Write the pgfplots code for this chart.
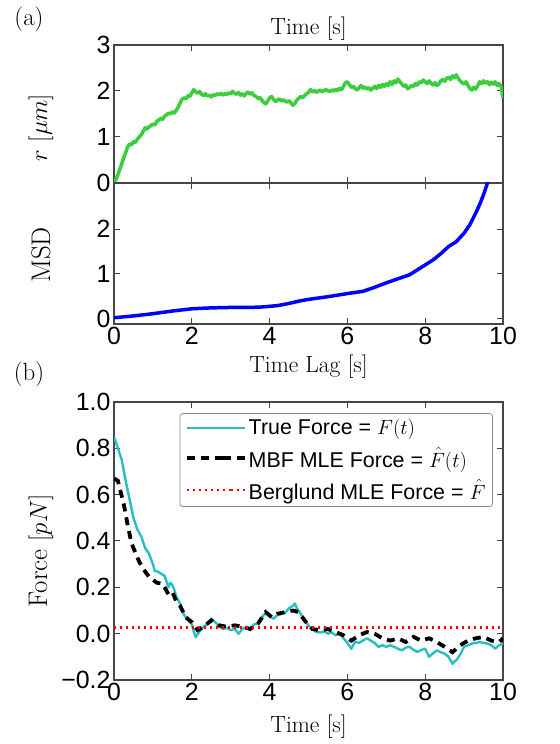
\documentclass[border=0pt]{standalone}
\usepackage{fontspec}
\usepackage{pgfplots}
\pgfplotsset{compat=1.18}
\newfontfamily\helv{Liberation Sans}
\definecolor{rgreen}{RGB}{60,205,60}
\definecolor{cyanc}{RGB}{40,190,195}
\definecolor{axgray}{RGB}{70,70,70}
\pgfplotsset{
  stdleg/.style={legend image code/.code={\draw[##1] (0bp,0bp) -- (44bp,0bp); \path (44bp,0bp) -- (58bp,0bp);}},
  dashleg/.style={legend image code/.code={\draw[##1] (0bp,0bp) -- (36bp,0bp); \path (36bp,0bp) -- (58bp,0bp);}},
}
\begin{document}
\begin{tikzpicture}
\path[use as bounding box] (0bp,0bp) rectangle (560bp,744bp);
\pgfplotsset{
  every axis/.append style={
    scale only axis, width=389bp, xmin=0, xmax=10,
    axis line style={line width=1.2bp, axgray},
    every tick/.style={line width=1bp, axgray},
    major tick length=6bp, tick align=inside,
    xtick={0,2,4,6,8,10},
    ticklabel style={font=\fontsize{25}{25}\selectfont\helv},
    /pgf/number format/assume math mode=true,
    every axis x label/.style={font=\fontsize{23.5}{26}\selectfont, anchor=center},
    every axis y label/.style={font=\fontsize{27}{29}\selectfont, rotate=90, anchor=center},
  },
}
% ---------- (a) top: r(t)
\begin{axis}[at={(114bp,561bp)}, anchor=south west, height=138bp,
  ymin=0, ymax=3, ytick={0,1,2,3},
  xticklabels={},
  xlabel={Time [s]},
  xlabel style={at={(rel axis cs:0.5,1.116)}},
  ylabel={$r\ [\mu m]$},
  ylabel style={at={(rel axis cs:-0.1877,0.40)}}]
\addplot[rgreen, line width=3.5bp, line join=round] coordinates {
(0.00,0.00)(0.05,0.08)(0.10,0.18)(0.15,0.30)(0.20,0.42)(0.25,0.55)(0.30,0.66)(0.35,0.78)(0.40,0.85)(0.45,0.83)
(0.50,0.90)(0.55,0.88)(0.60,0.95)(0.65,1.00)(0.70,1.05)(0.75,1.12)(0.80,1.20)(0.85,1.17)(0.90,1.22)(0.95,1.25)
(1.00,1.28)(1.05,1.26)(1.10,1.34)(1.15,1.37)(1.20,1.40)(1.25,1.38)(1.30,1.45)(1.35,1.48)(1.40,1.52)(1.45,1.50)
(1.50,1.55)(1.55,1.52)(1.60,1.58)(1.65,1.65)(1.70,1.74)(1.75,1.82)(1.80,1.85)(1.85,1.83)(1.90,1.90)(1.95,1.88)
(2.00,1.96)(2.05,2.03)(2.10,1.98)(2.15,1.95)(2.20,1.99)(2.25,1.93)(2.30,1.90)(2.35,1.94)(2.40,1.89)(2.45,1.91)
(2.50,1.87)(2.55,1.92)(2.60,1.90)(2.65,1.94)(2.70,1.92)(2.75,1.95)(2.80,1.91)(2.85,1.94)(2.90,1.93)(2.95,1.96)
(3.00,1.94)(3.05,1.99)(3.10,1.95)(3.15,1.93)(3.20,1.97)(3.25,1.91)(3.30,1.94)(3.35,1.89)(3.40,1.95)(3.45,1.98)
(3.50,1.93)(3.55,1.96)(3.60,1.90)(3.65,1.88)(3.70,1.84)(3.75,1.86)(3.80,1.80)(3.85,1.75)(3.90,1.72)(3.95,1.78)
(4.00,1.85)(4.05,1.88)(4.10,1.82)(4.15,1.77)(4.20,1.80)(4.25,1.83)(4.30,1.78)(4.35,1.81)(4.40,1.78)(4.45,1.76)
(4.50,1.79)(4.55,1.74)(4.60,1.69)(4.65,1.73)(4.70,1.80)(4.75,1.84)(4.80,1.88)(4.85,1.85)(4.90,1.90)(4.95,1.94)
(5.00,1.97)(5.05,2.03)(5.10,1.98)(5.15,2.01)(5.20,1.97)(5.25,2.00)(5.30,2.02)(5.35,1.98)(5.40,2.01)(5.45,2.03)
(5.50,2.00)(5.55,1.99)(5.60,2.02)(5.65,2.00)(5.70,2.04)(5.75,2.01)(5.80,2.06)(5.85,2.03)(5.90,2.10)(5.95,2.18)
(6.00,2.20)(6.05,2.14)(6.10,2.08)(6.15,2.10)(6.20,2.05)(6.25,2.02)(6.30,2.07)(6.35,2.12)(6.40,2.06)(6.45,2.09)
(6.50,2.04)(6.55,2.07)(6.60,2.02)(6.65,2.06)(6.70,2.10)(6.75,2.05)(6.80,2.12)(6.85,2.08)(6.90,2.14)(6.95,2.10)
(7.00,2.16)(7.05,2.12)(7.10,2.20)(7.15,2.14)(7.20,2.22)(7.25,2.18)(7.30,2.26)(7.35,2.20)(7.40,2.15)(7.45,2.10)
(7.50,2.13)(7.55,2.05)(7.60,2.08)(7.65,2.12)(7.70,2.10)(7.75,2.16)(7.80,2.13)(7.85,2.20)(7.90,2.18)(7.95,2.24)
(8.00,2.20)(8.05,2.16)(8.10,2.22)(8.15,2.17)(8.20,2.13)(8.25,2.18)(8.30,2.12)(8.35,2.15)(8.40,2.22)(8.45,2.25)
(8.50,2.21)(8.55,2.27)(8.60,2.30)(8.65,2.25)(8.70,2.33)(8.75,2.29)(8.80,2.35)(8.85,2.27)(8.90,2.22)(8.95,2.18)
(9.00,2.15)(9.05,2.20)(9.10,2.12)(9.15,2.05)(9.20,2.02)(9.25,2.08)(9.30,2.04)(9.35,2.12)(9.40,2.20)(9.45,2.16)
(9.50,2.22)(9.55,2.17)(9.60,2.20)(9.65,2.14)(9.70,2.19)(9.75,2.15)(9.80,2.20)(9.85,2.12)(9.90,2.16)(9.95,2.10)
(10.00,1.85)
};
\end{axis}
% ---------- (a) middle: MSD
\begin{axis}[at={(114bp,420bp)}, anchor=south west, height=141bp,
  ymin=-0.12, ymax=3.03, ytick={0,1,2},
  xlabel={Time Lag [s]},
  xlabel style={at={(rel axis cs:0.5,-0.305)}},
  ylabel={MSD},
  ylabel style={at={(rel axis cs:-0.1877,0.49)}}]
\addplot[blue, line width=3.5bp, line join=round] coordinates {
(0,0.02)(0.5,0.06)(1,0.11)(1.5,0.17)(1.8,0.20)(2,0.22)(2.5,0.24)(3,0.25)(3.5,0.25)(3.8,0.26)
(4.2,0.29)(4.5,0.34)(4.8,0.40)(5,0.43)(5.5,0.49)(6,0.56)(6.4,0.61)(6.7,0.70)(7,0.80)(7.3,0.89)
(7.6,0.98)(7.8,1.09)(8,1.20)(8.2,1.31)(8.4,1.45)(8.6,1.61)(8.8,1.72)(9,1.91)(9.15,2.10)(9.3,2.36)
(9.4,2.55)(9.5,2.77)(9.6,3.03)(9.7,3.3)
};
\end{axis}
% ---------- (b) Force
\begin{axis}[at={(114bp,64bp)}, anchor=south west, height=278bp,
  ymin=-0.2, ymax=1.0, ytick={-0.2,0,0.2,0.4,0.6,0.8,1.0},
  yticklabels={−0.2,0.0,0.2,0.4,0.6,0.8,1.0},
  xlabel={Time [s]},
  xlabel style={at={(rel axis cs:0.5,-0.169)}},
  ylabel={Force $[pN]$},
  ylabel style={at={(rel axis cs:-0.1877,0.464)}},
  legend style={at={(rel axis cs:0.974,0.96)}, anchor=north east,
    font=\fontsize{21.5}{24}\selectfont\helv, draw=black!45, line width=0.8bp,
    rounded corners=3bp, inner xsep=5bp, inner ysep=4bp,
    row sep=7bp},
  legend cell align=left,
  stdleg,
  ]
\addplot[cyanc, line width=2.4bp, line join=round] coordinates {
(0,0.85)(0.1,0.80)(0.2,0.75)(0.3,0.66)(0.4,0.58)(0.5,0.50)(0.6,0.45)(0.7,0.42)(0.8,0.37)(0.9,0.345)
(1.0,0.30)(1.05,0.27)(1.1,0.27)(1.2,0.26)(1.3,0.25)(1.4,0.20)(1.45,0.22)(1.5,0.21)(1.55,0.19)(1.6,0.16)
(1.7,0.13)(1.8,0.08)(1.9,0.06)(2.0,0.04)(2.05,0.01)(2.1,-0.015)(2.2,0.01)(2.3,0.03)(2.4,0.04)(2.5,0.065)
(2.6,0.05)(2.7,0.03)(2.8,0.02)(2.9,0.025)(3.0,0.015)(3.1,0.02)(3.2,0.0)(3.3,0.02)(3.4,0.03)(3.5,0.02)
(3.6,0.04)(3.7,0.045)(3.8,0.07)(3.9,0.09)(4.0,0.075)(4.1,0.065)(4.2,0.08)(4.3,0.085)(4.4,0.09)(4.5,0.11)
(4.6,0.12)(4.65,0.13)(4.7,0.11)(4.8,0.085)(4.9,0.06)(5.0,0.035)(5.1,0.02)(5.2,0.007)(5.3,0.005)(5.4,0.01)
(5.5,0.0)(5.6,0.005)(5.7,-0.007)(5.8,0.0)(5.9,-0.02)(6.0,-0.04)(6.1,-0.065)(6.2,-0.035)(6.3,-0.04)(6.4,-0.03)
(6.5,-0.02)(6.6,-0.03)(6.7,-0.04)(6.8,-0.057)(6.9,-0.05)(7.0,-0.057)(7.1,-0.05)(7.2,-0.057)(7.3,-0.065)(7.4,-0.072)
(7.5,-0.06)(7.6,-0.057)(7.7,-0.07)(7.8,-0.079)(7.9,-0.07)(8.0,-0.065)(8.1,-0.10)(8.2,-0.085)(8.3,-0.072)(8.4,-0.08)
(8.5,-0.086)(8.6,-0.10)(8.7,-0.13)(8.75,-0.12)(8.8,-0.115)(8.9,-0.09)(9.0,-0.057)(9.1,-0.05)(9.2,-0.043)(9.3,-0.04)
(9.4,-0.036)(9.5,-0.04)(9.6,-0.043)(9.7,-0.05)(9.8,-0.065)(9.9,-0.05)(10,-0.043)
};
\addlegendentry{True Force = $F(t)$}
\addplot[black, line width=3.8bp, dash pattern=on 8bp off 6bp, dashleg] coordinates {
(0,0.67)(0.1,0.66)(0.25,0.56)(0.35,0.47)(0.45,0.39)(0.55,0.35)(0.65,0.31)(0.75,0.28)(0.9,0.245)(1.1,0.22)
(1.25,0.215)(1.4,0.17)(1.5,0.18)(1.6,0.14)(1.7,0.12)(1.85,0.07)(2.0,0.05)(2.15,0.015)(2.3,0.03)(2.5,0.057)
(2.7,0.036)(2.9,0.03)(3.1,0.036)(3.3,0.03)(3.5,0.02)(3.7,0.043)(3.9,0.093)(4.05,0.072)(4.2,0.086)(4.4,0.093)
(4.6,0.10)(4.75,0.093)(4.9,0.057)(5.1,0.02)(5.3,0.015)(5.5,0.02)(5.7,0.007)(5.9,-0.007)(6.1,-0.03)(6.3,-0.007)
(6.5,0.007)(6.7,0.0)(6.9,-0.02)(7.1,-0.03)(7.3,-0.02)(7.5,-0.036)(7.7,-0.014)(7.9,-0.03)(8.1,-0.02)(8.3,-0.036)
(8.5,-0.057)(8.7,-0.08)(8.9,-0.05)(9.1,-0.03)(9.3,-0.02)(9.5,-0.014)(9.7,-0.03)(9.9,-0.036)(10,-0.02)
};
\addlegendentry{MBF MLE Force = $\hat{F}(t)$}
\addplot[red, line width=2.8bp, dash pattern=on 2bp off 4bp] coordinates {(0,0.027)(10,0.027)};
\addlegendentry{Berglund MLE Force = $\hat{F}$}
\end{axis}
\node[font=\fontsize{25}{27}\selectfont] at (29bp,725bp) {(a)};
\node[font=\fontsize{25}{27}\selectfont] at (29bp,370bp) {(b)};
\end{tikzpicture}
\end{document}
